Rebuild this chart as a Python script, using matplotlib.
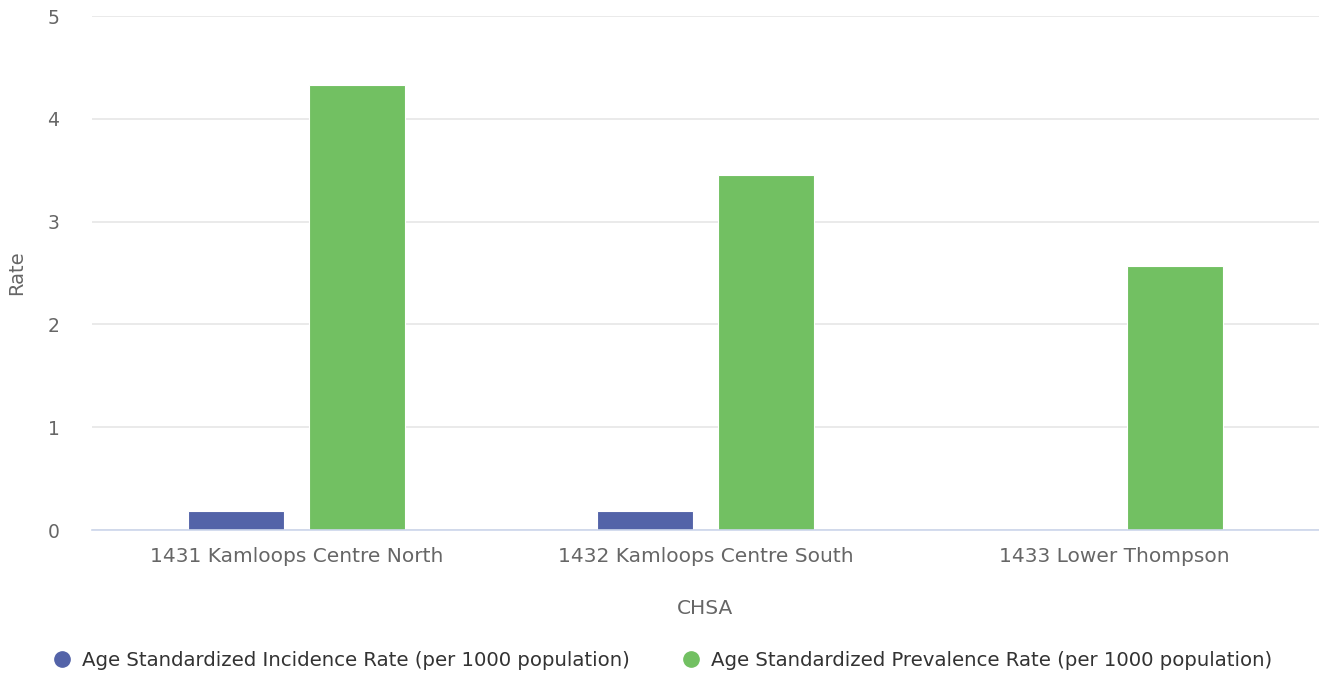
import matplotlib
matplotlib.use("Agg")
import matplotlib.pyplot as plt
from matplotlib.lines import Line2D
import numpy as np

categories = ["1431 Kamloops Centre North", "1432 Kamloops Centre South", "1433 Lower Thompson"]
incidence = [0.18, 0.18, 0.0]
prevalence = [4.33, 3.45, 2.57]
series_names = ["Age Standardized Incidence Rate (per 1000 population)",
                "Age Standardized Prevalence Rate (per 1000 population)"]
colors = ["#5363a8", "#72c062"]

fig = plt.figure(figsize=(13.19, 6.77), dpi=100)
ax = fig.add_axes([92 / 1319, (677 - 530) / 677, 1 - 92 / 1319, (530 - 16) / 677])

x = np.arange(len(categories))
w = 0.235
off = 0.149
ax.bar(x - off, incidence, width=w, color=colors[0], edgecolor="white", linewidth=0.8, zorder=3)
ax.bar(x + off, prevalence, width=w, color=colors[1], edgecolor="white", linewidth=0.8, zorder=3)

ax.set_xlim(-0.5, len(categories) - 0.5)
ax.set_ylim(0, 5)
ax.set_yticks([0, 1, 2, 3, 4, 5])
ax.grid(axis="y", color="#e6e6e6", linewidth=1.2, zorder=0)
ax.set_axisbelow(True)
for s in ["top", "right", "left"]:
    ax.spines[s].set_visible(False)
ax.spines["bottom"].set_color("#ccd6eb")
ax.spines["bottom"].set_linewidth(1.2)
ax.spines["bottom"].set_zorder(4)

ax.set_xticks(x)
ax.set_xticklabels(categories)
ax.tick_params(axis="x", length=0, pad=12, labelsize=14.5, labelcolor="#666666")
ax.tick_params(axis="y", length=0, pad=32, labelsize=13.5, labelcolor="#666666")
for lbl in ax.get_yticklabels():
    lbl.set_horizontalalignment("left")

ax.set_xlabel("CHSA", fontsize=14.5, color="#666666", labelpad=24)
ax.set_ylabel("Rate", fontsize=14, color="#666666")
ax.yaxis.set_label_coords(-66 / 1227, 0.5)

handles = [Line2D([0], [0], marker="o", linestyle="none", markersize=11,
                  markerfacecolor=c, markeredgecolor=c) for c in colors]
fig.legend(handles, series_names, loc="center", bbox_to_anchor=(662 / 1319, (677 - 660) / 677),
           ncol=2, frameon=False, fontsize=14.2, labelcolor="#333333",
           handletextpad=0.5, columnspacing=2.6, handlelength=1.0)

fig.savefig("out.png", dpi=100)
